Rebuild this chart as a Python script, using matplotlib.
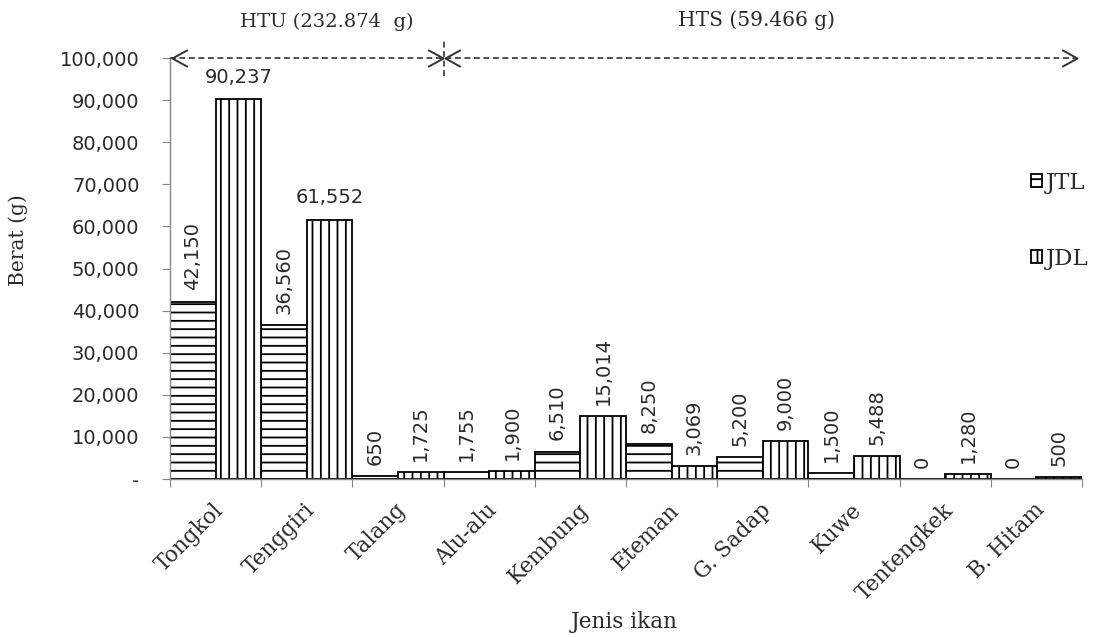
import matplotlib
matplotlib.use('Agg')
import matplotlib.pyplot as plt
import numpy as np
from matplotlib.path import Path
from matplotlib.transforms import ScaledTranslation
from matplotlib.ticker import FuncFormatter

categories = ['Tongkol', 'Tenggiri', 'Talang', 'Alu-alu', 'Kembung', 'Eteman',
              'G. Sadap', 'Kuwe', 'Tentengkek', 'B. Hitam']
jtl = [42150, 36560, 650, 1755, 6510, 8250, 5200, 1500, 0, 0]
jdl = [90237, 61552, 1725, 1900, 15014, 3069, 9000, 5488, 1280, 500]
series_names = ['JTL', 'JDL']
group_labels = ['HTU (232.874  g)', 'HTS (59.466 g)']
yticks = list(range(0, 100001, 10000))
ylabel = 'Berat (g)'
xlabel = 'Jenis ikan'

SERIF = 'DejaVu Serif'
SANS = 'DejaVu Sans'
TXT = '#2a2a2a'
plt.rcParams['hatch.linewidth'] = 1.3

W, H = 1102, 637
fig = plt.figure(figsize=(W / 100, H / 100), dpi=100)
ax = fig.add_axes([170 / W, (H - 479) / H, 912 / W, 421 / H])

x = np.arange(len(categories))
b1 = ax.bar(x - 0.25, jtl, width=0.5, facecolor='white', edgecolor='black',
            hatch='--', lw=1.3, label=series_names[0])
b2 = ax.bar(x + 0.25, jdl, width=0.5, facecolor='white', edgecolor='black',
            hatch='||', lw=1.3, label=series_names[1])

ax.set_xlim(-0.5, len(categories) - 0.5)
ax.set_ylim(0, 100000)

for s in ['top', 'right']:
    ax.spines[s].set_visible(False)
for s in ['left', 'bottom']:
    ax.spines[s].set_color('#888888')
    ax.spines[s].set_linewidth(1.0)

ax.set_yticks(yticks)
ax.yaxis.set_major_formatter(FuncFormatter(lambda v, p: '-' if v == 0 else f'{v:,.0f}'))
ax.tick_params(axis='y', length=6, color='#888888', pad=16, labelsize=14,
               labelcolor=TXT)
for t in ax.get_yticklabels():
    t.set_family(SANS)

ax.set_xticks(np.arange(-0.5, len(categories), 1))
ax.set_xticklabels([])
ax.tick_params(axis='x', length=6, color='#888888')

# category labels
off = ScaledTranslation(-3 / 100, -20 / 100, fig.dpi_scale_trans)
for i, c in enumerate(categories):
    ax.text(i, 0, c, transform=ax.transData + off, rotation=45,
            rotation_mode='anchor', ha='right', va='top', family=SERIF,
            fontsize=15.5, color=TXT)

# value labels
for xs, vals in [(x - 0.25, jtl), (x + 0.25, jdl)]:
    for xi, v in zip(xs, vals):
        if v > 50000:
            ax.annotate(f'{v:,}', (xi, v), xytext=(0, 9), textcoords='offset points',
                        ha='center', va='bottom', family=SANS, fontsize=14, color=TXT)
        else:
            ax.annotate(f'{v:,}', (xi, v), xytext=(0, 8), textcoords='offset points',
                        ha='center', va='bottom', rotation=90, family=SANS,
                        fontsize=14, color=TXT)

# group arrows along the top
ytop = 100000
split = 2.5
dash = (0, (3.5, 2.2))
acol = '#333333'
ax.plot([-0.5, len(categories) - 0.55], [ytop, ytop], ls=dash, color=acol, lw=1.2,
        clip_on=False, zorder=5)
chev_r = Path([(-1, 0.55), (0, 0), (-1, -0.55)], [Path.MOVETO, Path.LINETO, Path.LINETO])
chev_l = Path([(1, 0.55), (0, 0), (1, -0.55)], [Path.MOVETO, Path.LINETO, Path.LINETO])
ax.plot([-0.48, split + 0.01], [ytop, ytop], ls='none', marker=chev_l, ms=22,
        mfc='none', mec=acol, mew=1.4, clip_on=False, zorder=6)
ax.plot([split - 0.01, len(categories) - 0.55], [ytop, ytop], ls='none', marker=chev_r,
        ms=22, mfc='none', mec=acol, mew=1.4, clip_on=False, zorder=6)
px = 100000 / 421
ax.plot([split, split], [ytop - 18 * px, ytop + 18 * px], ls=dash, color=acol, lw=1.2,
        clip_on=False, zorder=6)

fig.text(327 / W, 1 - 22 / H, group_labels[0], ha='center', va='center',
         family=SERIF, fontsize=14, color=TXT)
fig.text(756 / W, 1 - 20 / H, group_labels[1], ha='center', va='center',
         family=SERIF, fontsize=14.5, color=TXT)

fig.text(18 / W, 1 - 240 / H, ylabel, rotation=90, ha='center', va='center',
         family=SERIF, fontsize=14.5, color=TXT)
fig.text(624 / W, 1 - 622 / H, xlabel, ha='center', va='center',
         family=SERIF, fontsize=15.5, color=TXT)

leg = fig.legend(handles=[b1, b2], labels=series_names, loc='upper left',
                 bbox_to_anchor=(1031 / W, 1 - 172 / H), frameon=False,
                 handlelength=0.5, handleheight=0.5, handletextpad=0.15,
                 labelspacing=2.35, borderpad=0, borderaxespad=0,
                 prop={'family': SERIF, 'size': 16.5})
for t in leg.get_texts():
    t.set_color(TXT)

fig.savefig('out.png', dpi=100)
